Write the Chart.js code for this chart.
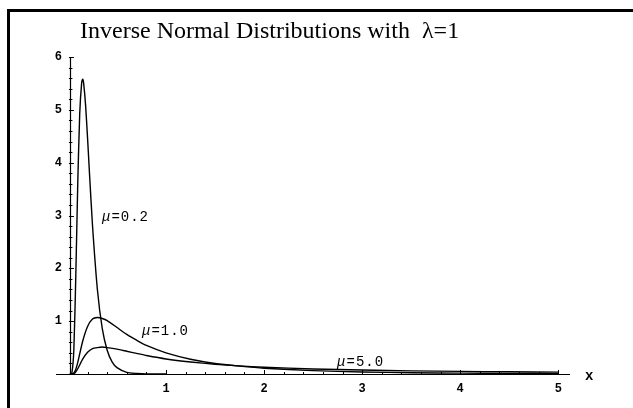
<!DOCTYPE html>
<html>
<head>
<meta charset="utf-8">
<script src="https://cdn.jsdelivr.net/npm/chart.js@4/dist/chart.umd.min.js"></script>
<style>
  html, body { margin: 0; padding: 0; background: #fff; }
  #chartCanvas { display: block; background: #fff; }
</style>
</head>
<body>
<canvas id="chartCanvas" width="633" height="408"></canvas>
<script>
// values (lambda = 1)
const xMu02 = [0.02, 0.04, 0.06, 0.08, 0.10, 0.12, 0.14, 0.15, 0.16, 0.18, 0.20, 0.22, 0.25, 0.30, 0.35, 0.40, 0.45, 0.50, 0.60, 0.70, 0.80, 1.0];
const yMu02 = [0, 0.02, 0.46, 1.86, 3.62, 4.93, 5.52, 5.58, 5.50, 5.08, 4.46, 3.78, 2.82, 1.60, 0.86, 0.45, 0.23, 0.12, 0.03, 0.01, 0, 0];

const xTail = [0.02, 0.05, 0.075, 0.10, 0.15, 0.20, 0.25, 0.30, 0.35, 0.40, 0.50, 0.60, 0.70, 0.80, 1.0, 1.25, 1.5, 1.75, 2.0, 2.5, 3.0, 3.5, 4.0, 4.5, 5.0];
const yMu1 = [0, 0.004, 0.065, 0.22, 0.62, 0.90, 1.04, 1.07, 1.05, 1.01, 0.88, 0.75, 0.64, 0.54, 0.40, 0.28, 0.20, 0.15, 0.11, 0.064, 0.039, 0.025, 0.016, 0.011, 0.007];
const yMu5 = [0, 0.002, 0.03, 0.10, 0.28, 0.41, 0.48, 0.50, 0.51, 0.50, 0.47, 0.43, 0.39, 0.35, 0.285, 0.228, 0.184, 0.153, 0.129, 0.096, 0.075, 0.060, 0.050, 0.042, 0.036];

// curve labels and where they sit (data coords)
const curveLabels = ["0.2", "1.0", "5.0"];
const labelX = [0.347, 0.755, 2.745];
const labelY = [2.96, 0.80, 0.23];

// axis ticks
const xTicks = [1, 2, 3, 4, 5];
const yTicks = [1, 2, 3, 4, 5, 6];
const titleText = "Inverse Normal Distributions with  \u03bb=1";

function pts(xs, ys) {
  return xs.map((x, i) => ({ x: x, y: ys[i] }));
}

// Mathematica style axes, ticks, labels, frame
const mmaAxes = {
  id: "mmaAxes",
  afterDatasetsDraw(chart) {
    const ctx = chart.ctx;
    const xs = chart.scales.x;
    const ys = chart.scales.y;
    const y0 = ys.getPixelForValue(0);
    const ax = xs.getPixelForValue(0.02);

    ctx.save();
    ctx.strokeStyle = "#000";
    ctx.fillStyle = "#000";

    // frame (left + top only)
    ctx.lineWidth = 3;
    ctx.beginPath();
    ctx.moveTo(8.5, 408);
    ctx.lineTo(8.5, 10.5);
    ctx.lineTo(633, 10.5);
    ctx.stroke();

    // title
    ctx.font = "24px 'Liberation Serif'";
    ctx.textAlign = "left";
    ctx.textBaseline = "alphabetic";
    ctx.fillText(titleText, 80, 38);

    // axes lines
    ctx.lineWidth = 1.2;
    ctx.beginPath();
    ctx.moveTo(xs.left, Math.round(y0) + 0.5);
    ctx.lineTo(xs.right, Math.round(y0) + 0.5);
    ctx.moveTo(Math.round(ax) + 0.5, y0);
    ctx.lineTo(Math.round(ax) + 0.5, ys.getPixelForValue(6));
    ctx.stroke();

    // ticks
    ctx.lineWidth = 1;
    ctx.beginPath();
    for (let i = 1; i <= 25; i++) {
      const v = i * 0.2;
      const px = Math.round(xs.getPixelForValue(v)) + 0.5;
      const len = i % 5 === 0 ? 4 : 2;
      ctx.moveTo(px, y0);
      ctx.lineTo(px, y0 - len);
    }
    for (let i = 1; i <= 30; i++) {
      const v = i * 0.2;
      const py = Math.round(ys.getPixelForValue(v)) + 0.5;
      const len = i % 5 === 0 ? 4 : 2.5;
      ctx.moveTo(ax - 1, py);
      ctx.lineTo(ax + len, py);
    }
    ctx.stroke();

    // tick labels
    ctx.font = "bold 12px 'Liberation Mono'";
    ctx.textBaseline = "middle";
    ctx.textAlign = "center";
    xTicks.forEach(v => ctx.fillText(String(v), xs.getPixelForValue(v), 389));
    ctx.textAlign = "right";
    yTicks.forEach(v => ctx.fillText(String(v), 62, ys.getPixelForValue(v)));

    // axis name
    ctx.font = "bold 14px 'Liberation Mono'";
    ctx.textAlign = "left";
    ctx.fillText("x", 585, 376);

    // curve labels
    ctx.textAlign = "left";
    ctx.letterSpacing = "1px";
    curveLabels.forEach((t, i) => {
      const px = xs.getPixelForValue(labelX[i]);
      const py = ys.getPixelForValue(labelY[i]);
      ctx.font = "italic 14px 'Liberation Mono'";
      ctx.fillText("\u03bc", px, py);
      const w = ctx.measureText("\u03bc").width;
      ctx.font = "14px 'Liberation Mono'";
      ctx.fillText("=" + t, px + w, py);
    });
    ctx.restore();
  }
};

const lineStyle = { borderColor: "#000", borderWidth: 1.4, pointRadius: 0, fill: false, tension: 0.2 };

new Chart(document.getElementById("chartCanvas"), {
  type: "line",
  data: {
    datasets: [
      { label: "mu=0.2", data: pts(xMu02, yMu02), ...lineStyle },
      { label: "mu=1.0", data: pts(xTail, yMu1), ...lineStyle },
      { label: "mu=5.0", data: pts(xTail, yMu5), ...lineStyle }
    ]
  },
  options: {
    responsive: false,
    animation: false,
    devicePixelRatio: 1,
    layout: { padding: { left: 56, right: 63, top: 57, bottom: 34 } },
    plugins: { legend: { display: false }, tooltip: { enabled: false }, title: { display: false } },
    scales: {
      x: { type: "linear", min: -0.122, max: 5.12, display: false },
      y: { type: "linear", min: 0, max: 6, display: false }
    }
  },
  plugins: [mmaAxes]
});
</script>
</body>
</html>
